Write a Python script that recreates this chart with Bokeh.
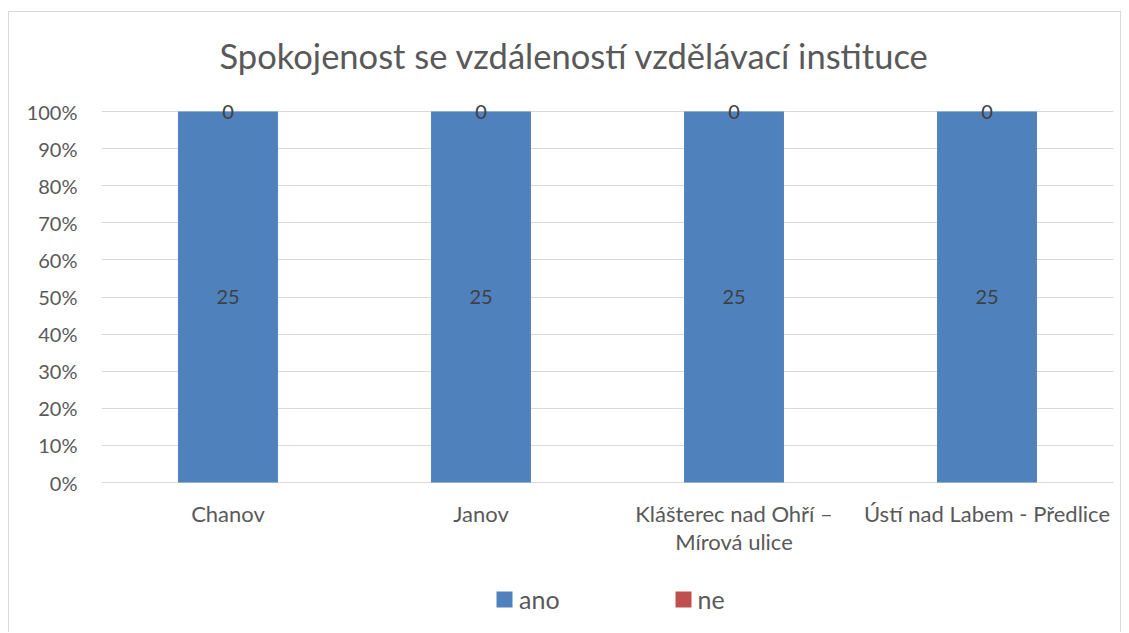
from bokeh.plotting import figure
from bokeh.models import ColumnDataSource, FactorRange, Range1d, LabelSet, Label, NumeralTickFormatter
from bokeh.embed import file_html
from bokeh.resources import INLINE
from bokeh.core.properties import value

categories = ["Chanov", "Janov", "Klášterec nad Ohří –\nMírová ulice", "Ústí nad Labem - Předlice"]
ano = [25, 25, 25, 25]
ne = [0, 0, 0, 0]
series_names = ["ano", "ne"]
colors = ["#4F81BD", "#C0504D"]
title_text = "Spokojenost se vzdáleností vzdělávací instituce"
y_ticks = [i / 10 for i in range(11)]

FONT = "Lato"
TXT = "#595959"

tot = [a + n for a, n in zip(ano, ne)]
ano_f = [a / t if t else 0 for a, t in zip(ano, tot)]
ne_f = [n / t if t else 0 for n, t in zip(ne, tot)]
source = ColumnDataSource(dict(cats=categories, ano=ano_f, ne=ne_f))

# layout (canvas pixels)
W, H = 1113, 621
LEFT, RIGHT = 92, 9
Y1_PX, Y0_PX = 99, 470          # canvas y of 100% and 0%
ppu = (Y0_PX - Y1_PX)
y_top = 1 + Y1_PX / ppu
y_bot = -(H - Y0_PX) / ppu

def ypx(px):  # canvas px from top -> data y
    return y_top - px / ppu

p = figure(x_range=FactorRange(*categories), y_range=Range1d(y_bot, y_top),
           width=W, height=H, output_backend="svg", toolbar_location=None,
           x_axis_location=None,
           min_border_left=LEFT, min_border_right=RIGHT, min_border_top=0, min_border_bottom=0)
p.styles = {"border-left": "1px solid #d9d9d9", "border-top": "1px solid #d9d9d9",
            "border-right": "1px solid #d9d9d9", "margin-left": "8px", "margin-top": "11px"}
p.outline_line_color = None
p.x_range.range_padding = 0
p.x_range.factor_padding = 0

p.vbar_stack(["ano", "ne"], x="cats", width=0.395, color=colors, source=source,
             legend_label=series_names, line_color=None)

p.xgrid.grid_line_color = None
p.ygrid.grid_line_color = "#d9d9d9"
p.ygrid.grid_line_width = 1
yax = p.yaxis[0]
yax.ticker = y_ticks
yax.formatter = NumeralTickFormatter(format="0%")
yax.axis_line_color = None
yax.major_tick_line_color = None
yax.minor_tick_line_color = None
yax.major_label_text_font = FONT
yax.major_label_text_font_size = "20px"
yax.major_label_text_color = TXT
yax.major_label_standoff = 18

# category labels (each line centred on its own)
cx, cy, ct = [], [], []
for c in categories:
    for i, line in enumerate(c.split("\n")):
        cx.append(c)
        cy.append(ypx(Y0_PX + 31 + i * 28))
        ct.append(line)
csrc = ColumnDataSource(dict(x=cx, y=cy, t=ct))
p.add_layout(LabelSet(x="x", y="y", text="t", source=csrc, text_align="center",
                      text_baseline="middle", text_font=value(FONT),
                      text_font_size="22px", text_color=TXT))

# data labels
lx, ly, lt = [], [], []
for c, a, n, af, nf in zip(categories, ano, ne, ano_f, ne_f):
    lx += [c, c]
    ly += [af / 2, af + nf / 2]
    lt += [str(a), str(n)]
lsrc = ColumnDataSource(dict(x=lx, y=ly, t=lt))
p.add_layout(LabelSet(x="x", y="y", text="t", source=lsrc, text_align="center",
                      text_baseline="middle", text_font=value(FONT),
                      text_font_size="20px", text_color="#404040"))

# title
frame_w = W - LEFT - RIGHT
p.add_layout(Label(x=(565 - LEFT) / frame_w * len(categories), y=ypx(43), text=title_text,
                   text_align="center", text_baseline="middle", text_font=FONT,
                   text_font_size="34.5px", text_color=TXT))

lg = p.legend[0]
lg.orientation = "horizontal"
lg.location = (485 - LEFT, H - 589 - 13)
lg.border_line_color = None
lg.background_fill_alpha = 0
lg.padding = 0
lg.margin = 0
lg.spacing = 113
lg.glyph_width = 20
lg.glyph_height = 20
lg.label_height = 20
lg.label_standoff = 5
lg.label_text_font = FONT
lg.label_text_font_size = "25px"
lg.label_text_color = TXT

open("out.html", "w").write(file_html(p, INLINE))
